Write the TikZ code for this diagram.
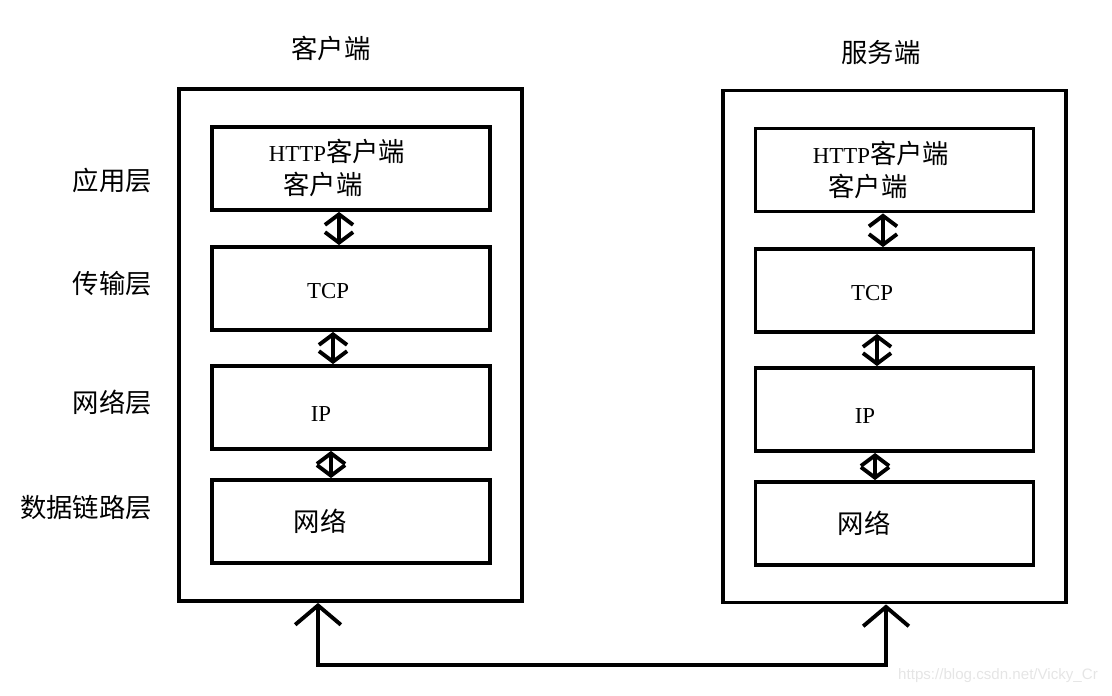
\documentclass[tikz,border=0pt]{standalone}
\usepackage{fontspec}
\setmainfont{Liberation Serif}
\newfontfamily\cjk{Noto Sans CJK SC}
\newfontfamily\wmfont{Liberation Sans}
\usetikzlibrary{arrows.meta}

\begin{document}
\begin{tikzpicture}[x=0.02cm,y=-0.02cm,
  outerbox/.style={draw,line width=2.2pt,minimum width=6.86cm,minimum height=10.24cm},
  layerbox/.style={draw,line width=2.2pt,minimum width=5.56cm,minimum height=1.66cm},
  cn/.style={font=\cjk\fontsize{15}{18}\selectfont,inner sep=1pt},
  en/.style={font=\fontsize{13}{16}\selectfont,inner sep=1pt},
  updown/.style={line width=2.2pt,{Straight Barb[length=6pt,width=16pt]}-{Straight Barb[length=6pt,width=16pt]}},
  link/.style={line width=2.2pt,{Straight Barb[length=11pt,width=26pt]}-{Straight Barb[length=11pt,width=26pt]}}]
  \useasboundingbox (0,0) rectangle (1112,696);
  % titles
  \node[cn] (clititle) at (331,48) {客户端};
  \node[cn] (srvtitle) at (881,52) {服务端};
  % layer names
  \node[cn,anchor=east] (lapp) at (154,180) {应用层};
  \node[cn,anchor=east] (ltcp) at (154,284) {传输层};
  \node[cn,anchor=east] (lip) at (154,402) {网络层};
  \node[cn,anchor=east] (lnet) at (154,508) {数据链路层};
  % client
  \node[outerbox] (cliout) at (350.5,345) {};
  \node[layerbox] (cliapp) at (351,168.5) {};
  \node[layerbox] (clitcp) at (351,288.5) {};
  \node[layerbox] (cliip) at (351,407.5) {};
  \node[layerbox] (clinet) at (351,521.5) {};
  \node[en] (cliapptxt) at (337,151) {HTTP{\cjk\fontsize{15}{18}\selectfont 客户端}};
  \node[cn] (cliapptxt2) at (323,184) {客户端};
  \node[en] (clitcptxt) at (328,291) {TCP};
  \node[en] (cliiptxt) at (321,414) {IP};
  \node[cn] (clinettxt) at (320,521) {网络};
  \draw[updown] ([xshift=-0.24cm]cliapp.south) -- ([xshift=-0.24cm]clitcp.north);
  \draw[updown] ([xshift=-0.36cm]clitcp.south) -- ([xshift=-0.36cm]cliip.north);
  \draw[updown] ([xshift=-0.40cm]cliip.south) -- ([xshift=-0.40cm]clinet.north);
  % server
  \node[outerbox] (srvout) at (894.5,346.5) {};
  \node[layerbox] (srvapp) at (894.5,170) {};
  \node[layerbox] (srvtcp) at (894.5,290.5) {};
  \node[layerbox] (srvip) at (894.5,409.5) {};
  \node[layerbox] (srvnet) at (894.5,523.5) {};
  \node[en] (srvapptxt) at (881,153) {HTTP{\cjk\fontsize{15}{18}\selectfont 客户端}};
  \node[cn] (srvapptxt2) at (868,186) {客户端};
  \node[en] (srvtcptxt) at (872,293) {TCP};
  \node[en] (srviptxt) at (865,416) {IP};
  \node[cn] (srvnettxt) at (864,523) {网络};
  \draw[updown] ([xshift=-0.23cm]srvapp.south) -- ([xshift=-0.23cm]srvtcp.north);
  \draw[updown] ([xshift=-0.35cm]srvtcp.south) -- ([xshift=-0.35cm]srvip.north);
  \draw[updown] ([xshift=-0.39cm]srvip.south) -- ([xshift=-0.39cm]srvnet.north);
  % link between the two hosts
  \coordinate (linkl) at (318,665);
  \coordinate (linkr) at (886,665);
  \draw[link] ([xshift=-0.65cm]cliout.south) -- (linkl) -- (linkr) -- ([xshift=-0.17cm]srvout.south);
  \node[font=\wmfont\fontsize{8.6}{10}\selectfont,text=gray!20,anchor=west] (mark) at (892,676) {https://blog.csdn.net/Vicky\_Cr};
\end{tikzpicture}
\end{document}
